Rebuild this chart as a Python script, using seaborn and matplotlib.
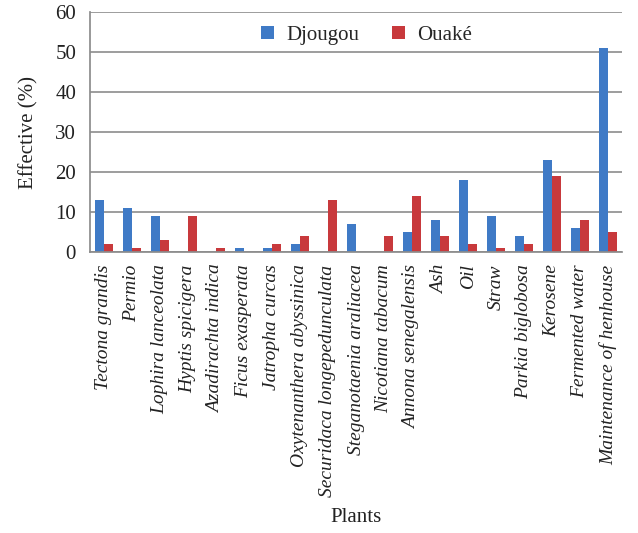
import matplotlib
matplotlib.use("Agg")
import matplotlib.pyplot as plt
import seaborn as sns
import pandas as pd

plants = ["Tectona grandis", "Permio", "Lophira lanceolata", "Hyptis spicigera",
          "Azadirachta indica", "Ficus exasperata", "Jatropha curcas",
          "Oxytenanthera abyssinica", "Securidaca longepedunculata",
          "Steganotaenia araliacea", "Nicotiana tabacum", "Annona senegalensis",
          "Ash", "Oil", "Straw", "Parkia biglobosa", "Kerosene",
          "Fermented water", "Maintenance of henhouse"]
djougou = [13, 11, 9, 0, 0, 1, 1, 2, 0, 7, 0, 5, 8, 18, 9, 4, 23, 6, 51]
ouake = [2, 1, 3, 9, 1, 0, 2, 4, 13, 0, 4, 14, 4, 2, 1, 2, 19, 8, 5]
series = ["Djougou", "Ouaké"]
yticks = [0, 10, 20, 30, 40, 50, 60]

df = pd.DataFrame({
    "Plant": plants * 2,
    "Site": [series[0]] * len(plants) + [series[1]] * len(plants),
    "Value": djougou + ouake,
})

sns.set_theme(style="white")
plt.rcParams["font.family"] = ["Liberation Serif", "DejaVu Serif"]

fig = plt.figure(figsize=(6.38, 5.33), dpi=100)
ax = fig.add_axes([0.141, 0.527, 0.834, 0.45])
sns.barplot(data=df, x="Plant", y="Value", hue="Site", order=plants,
            hue_order=series, palette=["#3F7AC6", "#C8393C"], width=0.62,
            saturation=1, edgecolor="none", ax=ax)
ax.set_ylim(0, 60)
ax.set_yticks(yticks)
ax.set_xlim(-0.5, len(plants) - 0.5)
ax.yaxis.grid(True, color="#8c8c8c", linewidth=1.2)
ax.set_axisbelow(True)
for s in ["top", "right"]:
    ax.spines[s].set_visible(False)
ax.spines["left"].set_color("#8c8c8c")
ax.spines["bottom"].set_color("#8c8c8c")
ax.tick_params(axis="y", labelsize=15, length=0, pad=10, colors="#222222")
ax.tick_params(axis="x", length=0, pad=9)
ax.set_xticks(range(len(plants)))
ax.set_xticklabels(plants, rotation=90, ha="center", va="top",
                   fontsize=14, style="italic", color="#222222")
ax.set_ylabel("Effective (%)", fontsize=15, color="#222222", labelpad=12)
ax.set_xlabel("Plants", fontsize=15, color="#222222", labelpad=8)
leg = ax.legend(loc="upper center", bbox_to_anchor=(0.52, 1.02), ncol=2,
                frameon=False, fontsize=15, handlelength=0.6, handleheight=0.6,
                columnspacing=1.6, handletextpad=0.6)
fig.savefig("out.png", dpi=100)
